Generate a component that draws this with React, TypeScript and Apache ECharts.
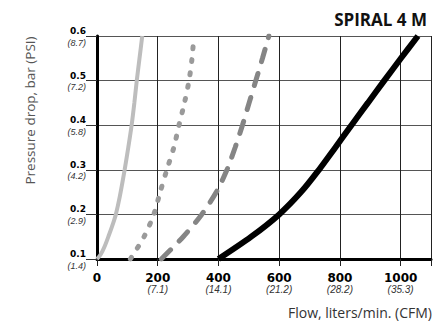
import React, { useEffect, useRef } from "react";
import * as echarts from "echarts";

// Tick labels
const xTicks = [0, 200, 400, 600, 800, 1000];
const xCfm = ["", "7.1", "14.1", "21.2", "28.2", "35.3"];
const yTicks = ["0.1", "0.2", "0.3", "0.4", "0.5", "0.6"];
const yPsi = ["1.4", "2.9", "4.2", "5.8", "7.2", "8.7"];

// Curves: [flow l/min, pressure bar]
const lightSolid: number[][] = [
  [0, 0.1], [12, 0.11], [25, 0.128], [40, 0.155], [53, 0.18], [62, 0.2],
  [75, 0.24], [91, 0.3], [103, 0.35], [114, 0.4], [123, 0.45], [131, 0.5],
  [140, 0.55], [149, 0.6],
];
const dotted: number[][] = [
  [110, 0.1], [155, 0.15], [187, 0.2], [208, 0.25], [230, 0.3],
  [253, 0.35], [270, 0.4], [288, 0.45], [303, 0.5], [313, 0.55], [319, 0.6],
];
const dashed: number[][] = [
  [212, 0.1], [284, 0.15], [345, 0.2], [393, 0.25], [428, 0.3],
  [455, 0.35], [479, 0.4], [501, 0.45], [523, 0.5], [545, 0.55], [566, 0.6],
];
const blackSolid: number[][] = [
  [400, 0.1], [508, 0.15], [600, 0.2], [672, 0.25], [731, 0.3],
  [785, 0.35], [838, 0.4], [892, 0.45], [946, 0.5], [1001, 0.55], [1057, 0.6],
];

const title = "SPIRAL 4 M";
const yName = "Pressure drop, bar (PSI)";
const xName = "Flow, liters/min. (CFM)";

export default function App() {
  const ref = useRef<HTMLDivElement>(null);
  useEffect(() => {
    if (!ref.current) return;
    const chart = echarts.init(ref.current, null, { renderer: "svg" });
    const mkLine = (data: number[][], color: string, width: number, type: any, cap: string, z: number) => ({
      type: "line",
      data,
      smooth: 0.3,
      showSymbol: false,
      z,
      lineStyle: { color, width, type, cap },
    });
    chart.setOption({
      animation: false,
      backgroundColor: "#fff",
      title: {
        text: title,
        right: 14,
        top: 6,
        textStyle: { fontFamily: "Open Sans", fontWeight: "bold", fontSize: 17, color: "#111" },
      },
      grid: { left: 97, right: 15, top: 36, bottom: 66 },
      xAxis: {
        type: "value",
        min: 0,
        max: 1100,
        interval: 200,
        axisLine: { show: true, lineStyle: { color: "#000", width: 3 } },
        axisTick: { show: true, length: 7, lineStyle: { color: "#222", width: 1 } },
        splitLine: { show: true, lineStyle: { color: "#222", width: 1 } },
        axisLabel: {
          margin: 13,
          formatter: (v: number) => {
            const i = xTicks.indexOf(Math.round(v));
            if (i < 0) return "";
            if (i === 0) return "{b|0}";
            return `{b|${xTicks[i]}}\n{i|(${xCfm[i]})}`;
          },
          rich: {
            b: { fontFamily: "DejaVu Sans", fontWeight: "bold", fontSize: 12, lineHeight: 12, color: "#000", align: "center" },
            i: { fontFamily: "Liberation Sans", fontStyle: "italic", fontSize: 10, lineHeight: 11, color: "#333", align: "center" },
          },
        },
      },
      yAxis: {
        type: "value",
        min: 0.1,
        max: 0.6,
        interval: 0.1,
        axisLine: { show: true, lineStyle: { color: "#000", width: 3 } },
        axisTick: { show: true, length: 11, lineStyle: { color: "#333", width: 1 } },
        splitLine: { show: true, lineStyle: { color: "#555", width: 1.2 } },
        axisLabel: {
          margin: 11,
          padding: [2, 0, 0, 0],
          formatter: (v: number) => {
            const i = Math.round(v * 10) - 1;
            if (i < 0 || i >= yTicks.length) return "";
            return `{b|${yTicks[i]}}\n{i|(${yPsi[i]})}`;
          },
          rich: {
            b: { fontFamily: "DejaVu Sans", fontWeight: "bold", fontSize: 9, lineHeight: 11, color: "#000", align: "right" },
            i: { fontFamily: "Liberation Sans", fontStyle: "italic", fontSize: 9, lineHeight: 12, color: "#333", align: "right" },
          },
        },
      },
      graphic: [
        {
          type: "text",
          x: 30,
          y: 110.5,
          rotation: Math.PI / 2,
          style: {
            text: yName,
            fontFamily: "Open Sans",
            fontSize: 13.5,
            fill: "#555",
            textAlign: "center",
            textVerticalAlign: "middle",
          },
        },
        {
          type: "text",
          x: 432,
          y: 312,
          style: {
            text: xName,
            fontFamily: "Open Sans",
            fontSize: 14,
            fill: "#333",
            textAlign: "right",
            textVerticalAlign: "middle",
          },
        },
      ],
      series: [
        mkLine(lightSolid, "#bdbdbd", 4, "solid", "butt", 2),
        mkLine(dotted, "#9a9a9a", 5, [2, 11], "round", 3),
        mkLine(dashed, "#858585", 5, [13, 12], "round", 4),
        mkLine(blackSolid, "#000", 6, "solid", "butt", 5),
      ],
    });
    return () => chart.dispose();
  }, []);
  return (
    <div
      ref={ref}
      style={{ position: "absolute", left: 0, top: 0, width: 446, height: 325 }}
    />
  );
}
